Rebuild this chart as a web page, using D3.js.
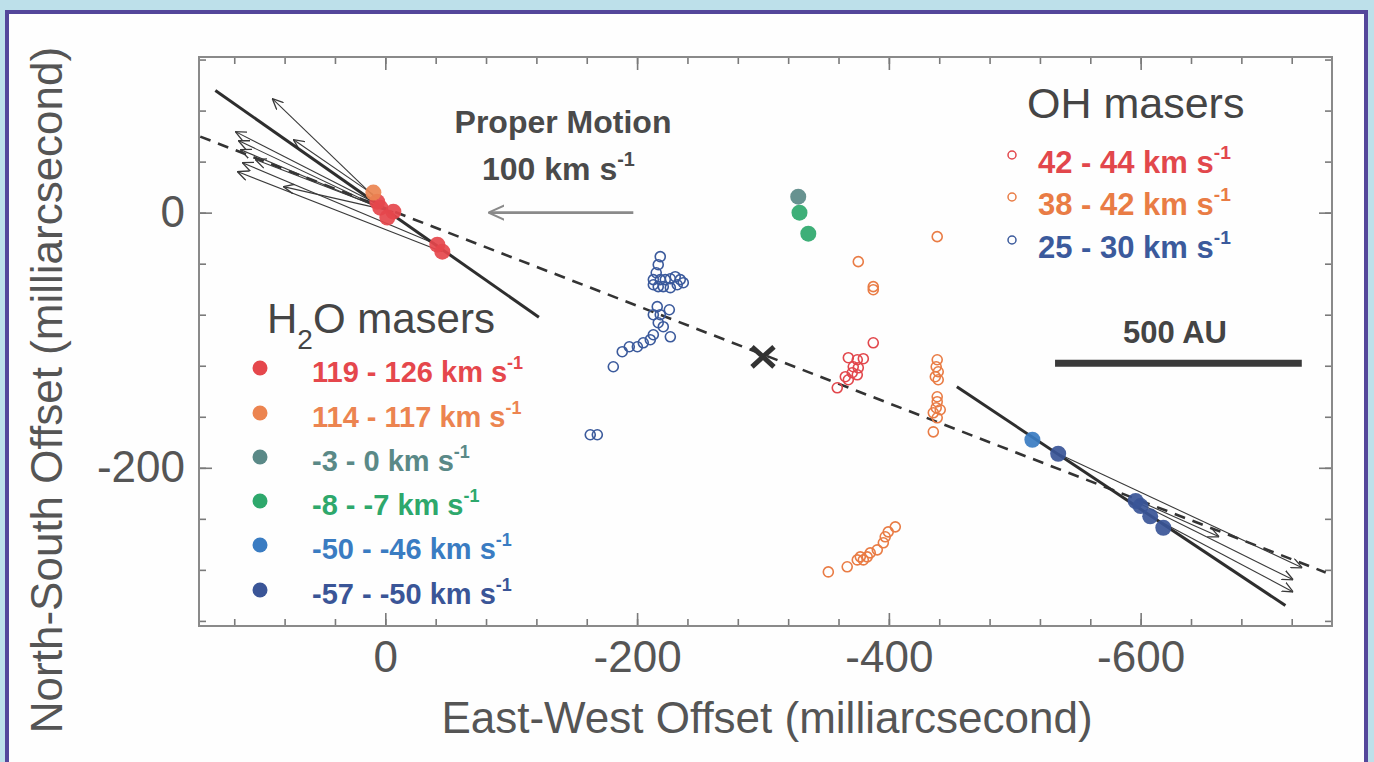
<!DOCTYPE html>
<html>
<head>
<meta charset="utf-8">
<script src="https://cdn.jsdelivr.net/npm/d3@7"></script>
<style>
  body { margin: 0; background: #bde0ea; }
  svg { display: block; font-family: "Liberation Sans", Arial, sans-serif; }
</style>
</head>
<body>
<div id="chart"></div>
<script>
// ---- data (milliarcsecond offsets) ----
const xTicksMajor = [0, -200, -400, -600];
const yTicksMajor = [0, -200];

const h2oLabels = ["119 - 126", "114 - 117", "-3 - 0", "-8 - -7", "-50 - -46", "-57 - -50"];
const ohLabels = ["42 - 44", "38 - 42", "25 - 30"];

// H2O masers (filled)
const h2oRed = [[6.4, 8.5], [4.0, 3.9], [-6.4, 0.8], [-1.6, -3.9], [-41.3, -25.1], [-45.3, -30.6]];
const h2oOrange = [[9.5, 15.7]];
const h2oTeal = [[-328, 12.5]];
const h2oGreen = [[-329, 0], [-336, -16.5]];
const h2oBlue = [[-514, -178]];
const h2oNavy = [[-534.5, -189], [-596, -226], [-600, -230], [-607.6, -238], [-618, -247]];

// OH masers (open)
const ohRed = [[-387.6, -102], [-367.8, -113.7], [-374.9, -115.3], [-379.7, -114.5], [-371.7, -120.8],
  [-375.7, -121.6], [-370.9, -125.5], [-374.9, -127.1], [-365.4, -128.6], [-367.8, -131], [-359, -137.3]];
const ohOrange = [[-375.7, -38.4], [-387.6, -58], [-387.6, -60.4], [-438.4, -18.8],
  [-438.4, -115.3], [-437.6, -120.8], [-439.2, -124.7], [-436.9, -128.6], [-439.2, -131],
  [-438.4, -144.3], [-438.4, -148.2], [-437.6, -152.9], [-440.8, -154.5], [-435.3, -156.9],
  [-438.4, -160.8], [-435.3, -171.8],
  [-351.9, -281.6], [-366.9, -277.6], [-374.9, -272.2], [-377.3, -269.8], [-379.7, -272.2],
  [-382.8, -269.8], [-385.2, -266.7], [-390.8, -264.3], [-395.6, -258.8], [-397.1, -254.1],
  [-399.5, -250.2], [-405.1, -246.3]];
const ohBlue = [[-218.4, -34.5], [-216.8, -40.8], [-215.2, -47.1], [-212.9, -52.5], [-218.4, -52.5],
  [-222.4, -52.5], [-226.4, -51.8], [-230.3, -50.2], [-234.3, -52.5], [-231.9, -56.5], [-226.4, -58.8],
  [-220.8, -58.0], [-216.8, -58.0], [-212.9, -56.5], [-236.7, -54.9],
  [-216.0, -73.7], [-225.6, -76.1], [-218.4, -80.0], [-212.9, -80.0], [-220.8, -89.4], [-216.8, -86.3],
  [-226.4, -97.3], [-212.9, -95.7], [-210.5, -99.6], [-204.9, -102.0], [-200.2, -105.1],
  [-193.8, -105.1], [-188.2, -109.0], [-181.1, -120.8], [-162.8, -174.1], [-168.4, -174.1]];

// jet axes and proper motions [x0, y0, x1, y1]
const jetNW = [[135, 95.7], [-122, -82]];
const jetSE = [[-454, -136.5], [-715, -308]];
const jetDashed = [[147, 59.6], [-747, -282]];
const starPos = [-300, -113];
const pmNW = [[6.4, 10.2, 89.8, 89.4], [5.6, 6.3, 119.1, 63.5], [4.0, 3.9, 116.8, 56.5],
  [1.6, 2.4, 115.2, 49.4], [-41.3, -25.1, 113.6, 39.2], [-45.3, -30.6, 117.6, 32.2],
  [9.5, 14.1, 73.1, 57.3], [-6.4, 0.8, 81.0, 20.4], [0, 2.4, 103.3, 41.6]];
const pmSE = [[-534.6, -189, -728.4, -278.4], [-596.5, -226.7, -721.2, -287.8],
  [-608.4, -238.4, -721.2, -297.3], [-596.5, -225.1, -662.4, -254.1]];
const pmScale = [-197, 0, -82.6, 0];   // 100 km/s
const scaleBar500AU = [-532, -728, -118];

const h2oSeries = [h2oRed, h2oOrange, h2oTeal, h2oGreen, h2oBlue, h2oNavy];
const ohSeries = [ohRed, ohOrange, ohBlue];
const h2oColors = ["#e5474c", "#ec8450", "#5a8987", "#2ea86c", "#3a7cc2", "#3a5597"];
const ohColors = ["#e2474c", "#e97c45", "#3b5a9c"];

// ---- layout ----
const width = 1374, height = 762;
const textGrey = "#505050";

const svg = d3.select("#chart").append("svg")
  .attr("width", width)
  .attr("height", height);

svg.append("rect")
  .attr("x", 7).attr("y", 12)
  .attr("width", 1359).attr("height", 780)
  .attr("fill", "#fefefe")
  .attr("stroke", "#54479b")
  .attr("stroke-width", 4);

const x = d3.scaleLinear().domain([148, -752]).range([199, 1332]);
const y = d3.scaleLinear().domain([-324, 122]).range([626, 57]);

const minorX = d3.range(120, -721, -40);
const minorY = d3.range(120, -321, -40);

function styleAxis(g) {
  g.select(".domain").remove();
  g.selectAll(".tick line").attr("stroke", "#7a7a7a").attr("stroke-width", 1.6);
  g.selectAll(".tick text")
    .attr("fill", "#555")
    .style("font-size", "44px");
}

// minor ticks on all four sides
svg.append("g").attr("transform", "translate(0,626)")
  .call(d3.axisBottom(x).tickValues(minorX).tickSizeInner(-7).tickSizeOuter(0).tickFormat(""))
  .call(styleAxis);
svg.append("g").attr("transform", "translate(0,57)")
  .call(d3.axisTop(x).tickValues(minorX).tickSizeInner(-7).tickSizeOuter(0).tickFormat(""))
  .call(styleAxis);
svg.append("g").attr("transform", "translate(199,0)")
  .call(d3.axisLeft(y).tickValues(minorY).tickSizeInner(-7).tickSizeOuter(0).tickFormat(""))
  .call(styleAxis);
svg.append("g").attr("transform", "translate(1332,0)")
  .call(d3.axisRight(y).tickValues(minorY).tickSizeInner(-7).tickSizeOuter(0).tickFormat(""))
  .call(styleAxis);

// major ticks + labels
svg.append("g").attr("transform", "translate(0,626)")
  .call(d3.axisBottom(x).tickValues(xTicksMajor).tickSizeInner(-13).tickSizeOuter(0)
    .tickPadding(15).tickFormat(d => String(d)))
  .call(styleAxis);
svg.append("g").attr("transform", "translate(0,57)")
  .call(d3.axisTop(x).tickValues(xTicksMajor).tickSizeInner(-13).tickSizeOuter(0).tickFormat(""))
  .call(styleAxis);
svg.append("g").attr("transform", "translate(199,0)")
  .call(d3.axisLeft(y).tickValues(yTicksMajor).tickSizeInner(-13).tickSizeOuter(0)
    .tickPadding(14).tickFormat(d => String(d)))
  .call(styleAxis);
svg.append("g").attr("transform", "translate(1332,0)")
  .call(d3.axisRight(y).tickValues(yTicksMajor).tickSizeInner(-13).tickSizeOuter(0).tickFormat(""))
  .call(styleAxis);

// frame
svg.append("rect")
  .attr("x", x(148)).attr("y", y(122))
  .attr("width", x(-752) - x(148)).attr("height", y(-324) - y(122))
  .attr("fill", "none")
  .attr("stroke", "#8a8a8a")
  .attr("stroke-width", 2);

// axis titles
svg.append("text")
  .attr("x", 767).attr("y", 733)
  .attr("text-anchor", "middle")
  .attr("fill", "#555")
  .style("font-size", "44px")
  .text("East-West Offset (milliarcsecond)");

svg.append("text")
  .attr("transform", "translate(62,390) rotate(-90)")
  .attr("text-anchor", "middle")
  .attr("fill", "#555")
  .style("font-size", "44px")
  .text("North-South Offset (milliarcsecond)");

// arrow markers
const defs = svg.append("defs");
defs.append("marker")
  .attr("id", "head-thin")
  .attr("viewBox", "0 0 10 10")
  .attr("refX", 10).attr("refY", 5)
  .attr("markerWidth", 11).attr("markerHeight", 11)
  .attr("markerUnits", "userSpaceOnUse")
  .attr("orient", "auto")
  .append("path")
  .attr("d", "M0,0.5 L10,5 L0,9.5")
  .attr("fill", "none")
  .attr("stroke", "#3a3a3a")
  .attr("stroke-width", 1.2);
defs.append("marker")
  .attr("id", "head-scale")
  .attr("viewBox", "0 0 10 10")
  .attr("refX", 9.5).attr("refY", 5)
  .attr("markerWidth", 16).attr("markerHeight", 18)
  .attr("markerUnits", "userSpaceOnUse")
  .attr("orient", "auto")
  .append("path")
  .attr("d", "M0,0.5 L10,5 L0,9.5")
  .attr("fill", "none")
  .attr("stroke", "#8a8a8a")
  .attr("stroke-width", 1.2);

const line = d3.line().x(d => x(d[0])).y(d => y(d[1]));

// dashed symmetry axis
svg.append("path")
  .attr("d", line(jetDashed))
  .attr("fill", "none")
  .attr("stroke", "#333")
  .attr("stroke-width", 2.6)
  .attr("stroke-dasharray", "11,8");

// proper-motion arrows
svg.append("g").selectAll("line")
  .data(pmNW.concat(pmSE))
  .join("line")
  .attr("x1", d => x(d[0])).attr("y1", d => y(d[1]))
  .attr("x2", d => x(d[2])).attr("y2", d => y(d[3]))
  .attr("stroke", "#3a3a3a")
  .attr("stroke-width", 1.1)
  .attr("marker-end", "url(#head-thin)");

// solid jet axes
[jetNW, jetSE].forEach(seg => {
  svg.append("path")
    .attr("d", line(seg))
    .attr("fill", "none")
    .attr("stroke", "#2e2e2e")
    .attr("stroke-width", 3);
});

// 100 km/s scale arrow
svg.append("line")
  .attr("x1", x(pmScale[0])).attr("y1", y(pmScale[1]))
  .attr("x2", x(pmScale[2])).attr("y2", y(pmScale[3]))
  .attr("stroke", "#8a8a8a")
  .attr("stroke-width", 2.6)
  .attr("marker-end", "url(#head-scale)");

// OH masers, open circles
ohSeries.forEach((pts, i) => {
  svg.append("g").selectAll("circle")
    .data(pts)
    .join("circle")
    .attr("cx", d => x(d[0])).attr("cy", d => y(d[1]))
    .attr("r", 5)
    .attr("fill", "none")
    .attr("stroke", ohColors[i])
    .attr("stroke-width", 1.6);
});

// H2O masers, filled circles
h2oSeries.forEach((pts, i) => {
  svg.append("g").selectAll("circle")
    .data(pts)
    .join("circle")
    .attr("cx", d => x(d[0])).attr("cy", d => y(d[1]))
    .attr("r", 8)
    .attr("fill", h2oColors[i])
    .attr("fill-opacity", 0.92);
});

// star position
const sx = x(starPos[0]), sy = y(starPos[1]);
svg.append("path")
  .attr("d", `M${sx - 11},${sy - 10}L${sx + 11},${sy + 10}M${sx - 11},${sy + 10}L${sx + 11},${sy - 10}`)
  .attr("stroke", "#333")
  .attr("stroke-width", 5);

// 500 AU bar
svg.append("line")
  .attr("x1", x(scaleBar500AU[0])).attr("x2", x(scaleBar500AU[1]))
  .attr("y1", y(scaleBar500AU[2])).attr("y2", y(scaleBar500AU[2]))
  .attr("stroke", "#3a3a3a")
  .attr("stroke-width", 7);
svg.append("text")
  .attr("x", 1175).attr("y", 343)
  .attr("text-anchor", "middle")
  .attr("fill", "#444")
  .style("font-size", "31px").style("font-weight", "bold")
  .text("500 AU");

// Proper motion labels
svg.append("text")
  .attr("x", 563).attr("y", 133)
  .attr("text-anchor", "middle")
  .attr("fill", "#4a4a4a")
  .style("font-size", "32px").style("font-weight", "bold")
  .text("Proper Motion");

function kms(sel, label, size) {
  sel.append("tspan").text(label + " km s");
  sel.append("tspan")
    .attr("dy", -size * 0.45)
    .style("font-size", (size * 0.62) + "px")
    .text("-1");
}

svg.append("text")
  .attr("x", 482).attr("y", 180)
  .attr("fill", "#4a4a4a")
  .style("font-size", "32px").style("font-weight", "bold")
  .call(kms, "100", 32);

// OH legend
svg.append("text")
  .attr("x", 1027).attr("y", 118)
  .attr("fill", "#454545")
  .style("font-size", "43px")
  .text("OH masers");

const ohRows = [155, 197, 240];
ohLabels.forEach((lab, i) => {
  svg.append("circle")
    .attr("cx", 1012).attr("cy", ohRows[i]).attr("r", 4)
    .attr("fill", "none").attr("stroke", ohColors[i]).attr("stroke-width", 1.5);
  svg.append("text")
    .attr("x", 1038).attr("y", ohRows[i] + 18)
    .attr("fill", ohColors[i])
    .style("font-size", "31px").style("font-weight", "bold")
    .call(kms, lab, 31);
});

// H2O legend
const h2oTitle = svg.append("text")
  .attr("x", 267).attr("y", 333)
  .attr("fill", "#454545")
  .style("font-size", "42px");
h2oTitle.append("tspan").text("H");
h2oTitle.append("tspan").attr("dy", 16).style("font-size", "28px").text("2");
h2oTitle.append("tspan").attr("dy", -16).text("O masers");

const h2oRows = [368, 413, 457, 501, 545, 590];
h2oLabels.forEach((lab, i) => {
  svg.append("circle")
    .attr("cx", 260).attr("cy", h2oRows[i]).attr("r", 7.5)
    .attr("fill", h2oColors[i]);
  svg.append("text")
    .attr("x", 312).attr("y", h2oRows[i] + 14)
    .attr("fill", h2oColors[i])
    .style("font-size", "29px").style("font-weight", "bold")
    .call(kms, lab, 29);
});
</script>
</body>
</html>
